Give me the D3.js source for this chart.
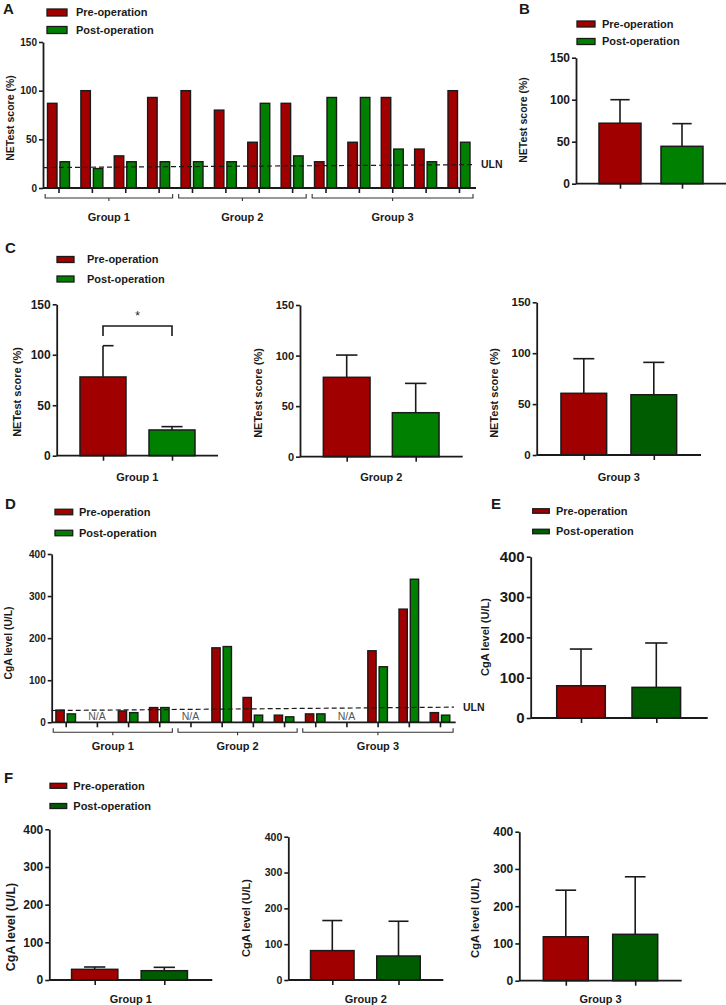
<!DOCTYPE html>
<html><head><meta charset="utf-8">
<script src="https://cdn.jsdelivr.net/npm/d3@7"></script>
<style>body{margin:0;background:#fff}svg{display:block;font-family:"Liberation Sans",Arial,sans-serif}</style>
</head><body>
<script>
// ---------------- DATA ----------------
const seriesNames = ["Pre-operation", "Post-operation"];
const groupNames = ["Group 1", "Group 2", "Group 3"];
const groupSizes = [4, 4, 5];
const netTicks = [0, 50, 100, 150];
const cgaTicks = [0, 100, 200, 300, 400];

// Panel A: NETest score per patient
const preA  = [87, 100, 33, 93, 100, 80, 47, 87, 27, 47, 93, 40, 100];
const postA = [27, 20, 27, 27, 27, 27, 87, 33, 93, 93, 40, 27, 47];
const ulnA = [21, 24];
// Panel B: overall mean ± SD
const meanB = [72, 44.5];
const errB = [28, 27];
// Panel C: per-group mean ± SD
const meanC1 = [78, 25.5],  errC1 = [31, 3.3];
const meanC2 = [78.5, 43.5], errC2 = [22, 29];
const meanC3 = [60.6, 59.2], errC3 = [34, 31.8];
// Panel D: CgA level per patient (null = N/A)
const preD  = [29, null, 27, 35, null, 177, 59, 17, 20, null, 170, 269, 23];
const postD = [20, null, 23, 35, null, 180, 17, 13, 20, null, 132, 340, 17];
const ulnD = [28, 36];
// Panel E: overall CgA mean ± SD
const meanE = [80, 76], errE = [91, 110];
// Panel F: per-group CgA mean ± SD
const meanF1 = [28.3, 24.7], errF1 = [6.2, 8.9];
const meanF2 = [82, 67],     errF2 = [84, 97];
const meanF3 = [118, 124.5], errF3 = [125, 154.5];

// ---------------- STYLE ----------------
const RED = "#a00000", GREEN = "#008000", DGREEN = "#005c00", INK = "#1a1a1a";
const svg = d3.select("body").append("svg").attr("width", 726).attr("height", 1005);

function letter(t, x, y) {
  svg.append("text").attr("x", x).attr("y", y).text(t)
    .attr("font-size", 15).attr("font-weight", "bold").attr("fill", INK);
}
function legend(x, y1, y2, rw, rh, tx, green, fs) {
  const cols = [RED, green];
  [y1, y2].forEach((y, i) => {
    svg.append("rect").attr("x", x).attr("y", y - rh / 2).attr("width", rw).attr("height", rh)
      .attr("fill", cols[i]).attr("stroke", INK).attr("stroke-width", 1.3);
    svg.append("text").attr("x", tx).attr("y", y).attr("dy", "0.35em").text(seriesNames[i])
      .attr("font-size", fs || 11).attr("font-weight", "bold").attr("fill", INK);
  });
}
function yAxis(y, x, ticks, fs) {
  const g = svg.append("g").attr("transform", `translate(${x},0)`)
    .call(d3.axisLeft(y).tickValues(ticks).tickSize(4).tickPadding(2).tickSizeOuter(0));
  g.select(".domain").attr("stroke", INK).attr("stroke-width", 1.8);
  g.selectAll(".tick line").attr("stroke", INK).attr("stroke-width", 1.6);
  g.selectAll(".tick text").attr("font-size", fs).attr("font-weight", "bold").attr("fill", INK)
    .attr("font-family", '"Liberation Sans",Arial,sans-serif');
}
function xAxis(x, x0, x1, y0) {
  svg.append("line").attr("x1", x0).attr("x2", x1).attr("y1", y0).attr("y2", y0)
    .attr("stroke", INK).attr("stroke-width", 1.8);
  const g = svg.append("g").attr("transform", `translate(0,${y0})`)
    .call(d3.axisBottom(x).tickSize(5).tickFormat(""));
  g.select(".domain").remove();
  g.selectAll(".tick line").attr("stroke", INK).attr("stroke-width", 1.6);
}
function yTitle(t, x, y, fs) {
  svg.append("text").attr("transform", `translate(${x},${y}) rotate(-90)`)
    .attr("text-anchor", "middle").attr("dy", "0.35em").text(t)
    .attr("font-size", fs).attr("font-weight", "bold").attr("fill", INK);
}
function label(t, x, y, fs) {
  svg.append("text").attr("x", x).attr("y", y).attr("text-anchor", "middle").attr("dy", "0.35em")
    .text(t).attr("font-size", fs || 11).attr("font-weight", "bold").attr("fill", INK);
}

// summary bar panel (mean + SD)
function summary(o) {
  const y = d3.scaleLinear().domain([0, o.max]).range([o.y0, o.yTop]);
  const x = d3.scalePoint().domain(seriesNames).range(o.centers);
  const cols = [RED, o.green];
  o.mean.forEach((m, i) => {
    const cx = x(seriesNames[i]);
    const top = y(m + o.err[i]);
    const cw = o.bw * 0.23;
    svg.append("line").attr("x1", cx).attr("x2", cx).attr("y1", y(m)).attr("y2", top)
      .attr("stroke", INK).attr("stroke-width", 1.6);
    const half = o.halfCap && i === 0;
    svg.append("line").attr("x1", half ? cx : cx - cw).attr("x2", cx + cw).attr("y1", top).attr("y2", top)
      .attr("stroke", INK).attr("stroke-width", 1.6);
    svg.append("rect").attr("x", cx - o.bw / 2).attr("y", y(m)).attr("width", o.bw)
      .attr("height", y(0) - y(m)).attr("fill", cols[i]).attr("stroke", INK).attr("stroke-width", 1.5);
  });
  xAxis(x, o.ax0, o.ax1, o.y0);
  yAxis(y, o.ax0, o.ticks, o.tfs);
  yTitle(o.title, o.tx, o.ty, o.titleFs);
  if (o.group) label(o.group, (o.ax0 + o.ax1) / 2, o.gy);
  return { x, y };
}

// per-patient panel
function patients(o) {
  const n = o.pre.length;
  const idx = d3.range(n);
  const y = d3.scaleLinear().domain([0, o.max]).range([o.y0, o.yTop]);
  const x = d3.scalePoint().domain(idx).range(o.range);
  const step = x.step();
  idx.forEach(i => {
    const cx = x(i);
    if (o.pre[i] == null) {
      svg.append("text").attr("x", cx).attr("y", o.y0 - 2).attr("text-anchor", "middle").text("N/A")
        .attr("font-size", 10.5).attr("fill", "#555");
      return;
    }
    svg.append("rect").attr("x", cx - o.gap / 2 - o.bw).attr("y", y(o.pre[i])).attr("width", o.bw)
      .attr("height", y(0) - y(o.pre[i])).attr("fill", RED).attr("stroke", INK).attr("stroke-width", 1.4);
    svg.append("rect").attr("x", cx + o.gap / 2).attr("y", y(o.post[i])).attr("width", o.bw)
      .attr("height", y(0) - y(o.post[i])).attr("fill", GREEN).attr("stroke", INK).attr("stroke-width", 1.4);
  });
  // ULN dashed
  svg.append("line").attr("x1", o.ax0).attr("x2", o.dashEnd).attr("y1", y(o.uln[0])).attr("y2", y(o.uln[1]))
    .attr("stroke", INK).attr("stroke-width", 1.2).attr("stroke-dasharray", "5,3");
  svg.append("text").attr("x", o.dashEnd + 9).attr("y", y(o.uln[1])).attr("dy", "0.35em").text("ULN")
    .attr("font-size", 10.5).attr("font-weight", "bold").attr("fill", INK);
  xAxis(x, o.ax0, o.ax1, o.y0);
  yAxis(y, o.ax0, o.ticks, o.tfs);
  yTitle(o.title, o.tx, o.ty, o.titleFs);
  // group brackets
  let start = 0;
  groupSizes.forEach((s, g) => {
    const a = x(start) - step * 0.4, b = x(start + s - 1) + step * 0.42;
    const by = o.y0 + o.bOff, m = (a + b) / 2;
    svg.append("path").attr("d", `M${a},${by - 4}V${by}H${b}V${by - 4}M${m},${by}V${by + 3}`)
      .attr("fill", "none").attr("stroke", "#333").attr("stroke-width", 1.1);
    label(groupNames[g], m, o.gy);
    start += s;
  });
}

// ---------------- PANEL A ----------------
letter("A", 3, 14);
legend(47, 12.5, 30, 20, 7, 76, GREEN);
patients({ pre: preA, post: postA, uln: ulnA, max: 150, ticks: netTicks, y0: 188, yTop: 42,
  range: [58.5, 459], bw: 9.5, gap: 3, ax0: 43, ax1: 476, dashEnd: 472,
  tfs: 10, title: "NETest score (%)", tx: 10, ty: 118, titleFs: 10.5, bOff: 10, gy: 217 });

// ---------------- PANEL B ----------------
letter("B", 519, 14);
legend(577, 24, 41.5, 18, 6, 602, GREEN);
summary({ mean: meanB, err: errB, max: 150, ticks: netTicks, y0: 183.7, yTop: 57.7,
  centers: [620, 682], bw: 42, ax0: 576, ax1: 726, green: GREEN, tfs: 12,
  title: "NETest score (%)", tx: 523, ty: 120, titleFs: 10.5 });

// ---------------- PANEL C ----------------
letter("C", 5, 253);
legend(57, 259.5, 279, 17, 6, 87, GREEN);
const c1 = summary({ mean: meanC1, err: errC1, max: 150, ticks: netTicks, y0: 455.7, yTop: 304.3,
  centers: [103, 172], bw: 46, ax0: 56.7, ax1: 218, green: GREEN, tfs: 12, halfCap: true,
  title: "NETest score (%)", tx: 17.5, ty: 392, titleFs: 11, group: groupNames[0], gy: 477 });
// significance bracket
{
  const sigTop = 128.5, sigLeg = 118.5, xa = c1.x(seriesNames[0]), xb = c1.x(seriesNames[1]);
  svg.append("path").attr("d", `M${xa},${c1.y(sigLeg)}V${c1.y(sigTop)}H${xb}V${c1.y(sigLeg)}`)
    .attr("fill", "none").attr("stroke", INK).attr("stroke-width", 1.6);
  svg.append("text").attr("x", (xa + xb) / 2).attr("y", c1.y(sigTop) - 6).attr("text-anchor", "middle")
    .text("*").attr("font-size", 12).attr("fill", INK);
}
summary({ mean: meanC2, err: errC2, max: 150, ticks: netTicks, y0: 456.7, yTop: 305,
  centers: [346.7, 415.7], bw: 46.7, ax0: 300, ax1: 462.7, green: GREEN, tfs: 11,
  title: "NETest score (%)", tx: 258, ty: 393, titleFs: 11, group: groupNames[1], gy: 477 });
summary({ mean: meanC3, err: errC3, max: 150, ticks: netTicks, y0: 455, yTop: 302.3,
  centers: [583.8, 653.8], bw: 45.7, ax0: 536.7, ax1: 701, green: DGREEN, tfs: 11.5,
  title: "NETest score (%)", tx: 494, ty: 393, titleFs: 11, group: groupNames[2], gy: 477 });

// ---------------- PANEL D ----------------
letter("D", 5, 509);
legend(55, 512, 533, 17.7, 5.5, 79, GREEN);
patients({ pre: preD, post: postD, uln: ulnD, max: 400, ticks: cgaTicks, y0: 722.3, yTop: 554,
  range: [65.7, 440], bw: 8.3, gap: 3, ax0: 51.7, ax1: 455.7, dashEnd: 454,
  tfs: 10, title: "CgA level (U/L)", tx: 8, ty: 643, titleFs: 10.3, bOff: 10, gy: 746 });

// ---------------- PANEL E ----------------
letter("E", 491, 509);
legend(532.7, 511, 531.5, 16.6, 4.5, 556, DGREEN);
summary({ mean: meanE, err: errE, max: 400, ticks: cgaTicks, y0: 718, yTop: 556.7,
  centers: [581, 656.3], bw: 48.6, ax0: 530.7, ax1: 707.7, green: DGREEN, tfs: 15,
  title: "CgA level (U/L)", tx: 485, ty: 637, titleFs: 11 });

// ---------------- PANEL F ----------------
letter("F", 4, 783);
legend(50, 785.8, 806, 16.7, 5, 73.3, DGREEN);
summary({ mean: meanF1, err: errF1, max: 400, ticks: cgaTicks, y0: 980, yTop: 829.3,
  centers: [94.7, 164.3], bw: 46.3, ax0: 49.3, ax1: 212.3, green: DGREEN, tfs: 12,
  title: "CgA level (U/L)", tx: 11, ty: 927, titleFs: 12.5, group: groupNames[0], gy: 999 });
summary({ mean: meanF2, err: errF2, max: 400, ticks: cgaTicks, y0: 980, yTop: 836.7,
  centers: [332.3, 398.5], bw: 43.5, ax0: 288.3, ax1: 443.3, green: DGREEN, tfs: 10.5,
  title: "CgA level (U/L)", tx: 246, ty: 918, titleFs: 11, group: groupNames[1], gy: 999 });
summary({ mean: meanF3, err: errF3, max: 400, ticks: cgaTicks, y0: 980.7, yTop: 831.7,
  centers: [565.8, 635.2], bw: 45, ax0: 519.3, ax1: 681.7, green: DGREEN, tfs: 12,
  title: "CgA level (U/L)", tx: 475, ty: 918, titleFs: 11.3, group: groupNames[2], gy: 999 });
</script>
</body></html>
